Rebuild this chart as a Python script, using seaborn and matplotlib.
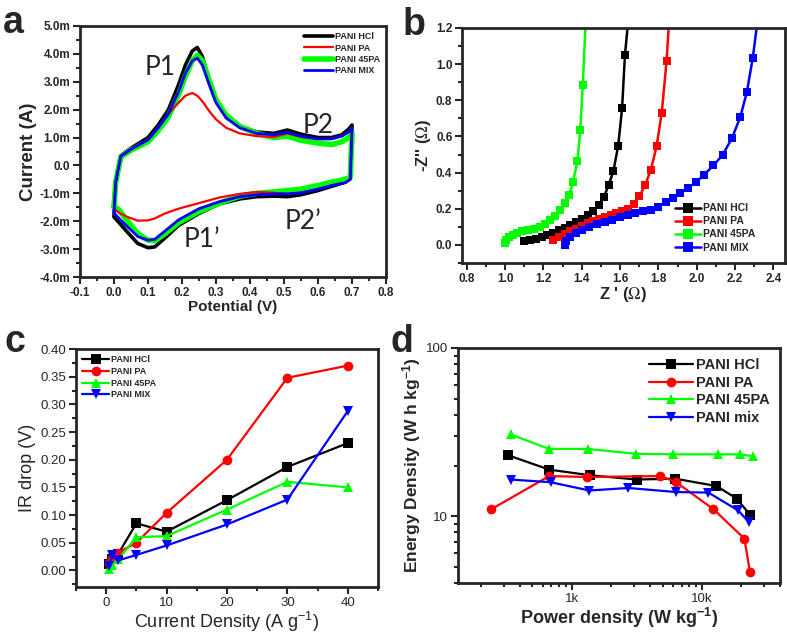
import numpy as np
import pandas as pd
import seaborn as sns
import matplotlib.pyplot as plt
from matplotlib.ticker import MultipleLocator, FuncFormatter, LogLocator, NullFormatter

# ---- panel a: cyclic voltammetry (current in mA) ----
cv_potential = [0.0, 0.005, 0.02, 0.05, 0.10, 0.13, 0.16, 0.19, 0.21, 0.23, 0.245, 0.26, 0.28,
                0.30, 0.33, 0.37, 0.42, 0.47, 0.51, 0.55, 0.60, 0.64, 0.67, 0.69, 0.70,
                0.695, 0.68, 0.64, 0.60, 0.55, 0.51, 0.47, 0.42, 0.37, 0.31, 0.25, 0.19,
                0.15, 0.12, 0.10, 0.07, 0.04, 0.015, 0.0]
cv_hcl = [-1.8, -0.6, 0.35, 0.62, 1.0, 1.45, 2.0, 2.9, 3.6, 4.1, 4.23, 3.9, 3.05,
          2.35, 1.75, 1.4, 1.2, 1.15, 1.27, 1.12, 1.0, 1.0, 1.1, 1.3, 1.45,
          -0.45, -0.6, -0.75, -0.9, -1.05, -1.12, -1.1, -1.12, -1.2, -1.38, -1.72, -2.15,
          -2.6, -2.92, -2.95, -2.8, -2.4, -2.05, -1.85]
cv_pa = [-1.6, -0.6, 0.33, 0.58, 0.92, 1.35, 1.85, 2.25, 2.5, 2.6, 2.5, 2.3, 1.95,
         1.65, 1.35, 1.15, 1.05, 1.02, 1.15, 1.02, 0.95, 0.95, 1.05, 1.2, 1.35,
         -0.5, -0.62, -0.72, -0.85, -0.98, -1.02, -0.98, -0.95, -1.02, -1.15, -1.35, -1.55,
         -1.72, -1.9, -1.97, -1.98, -1.85, -1.7, -1.55]
cv_45pa = [-1.5, -0.6, 0.3, 0.55, 0.85, 1.25, 1.75, 2.55, 3.2, 3.75, 3.95, 3.75, 3.05,
           2.35, 1.8, 1.4, 1.15, 1.0, 1.05, 0.9, 0.8, 0.75, 0.85, 1.0, 1.15,
           -0.42, -0.5, -0.6, -0.72, -0.85, -0.9, -0.95, -1.0, -1.1, -1.35, -1.65, -2.05,
           -2.45, -2.7, -2.68, -2.45, -2.0, -1.6, -1.45]
cv_mix = [-1.7, -0.6, 0.33, 0.58, 0.92, 1.35, 1.85, 2.65, 3.3, 3.75, 3.85, 3.6, 2.9,
          2.25, 1.7, 1.35, 1.15, 1.1, 1.18, 1.05, 0.95, 0.95, 1.05, 1.2, 1.35,
          -0.5, -0.62, -0.72, -0.85, -0.98, -1.02, -1.02, -1.05, -1.12, -1.3, -1.55, -1.95,
          -2.35, -2.65, -2.68, -2.55, -2.2, -1.9, -1.7]

# ---- panel b: Nyquist plots ----
zre_hcl = [1.10, 1.13, 1.16, 1.19, 1.22, 1.25, 1.28, 1.31, 1.34, 1.37, 1.40, 1.43, 1.46,
           1.49, 1.515, 1.54, 1.565, 1.59, 1.61, 1.625, 1.652]
zim_hcl = [0.02, 0.025, 0.035, 0.045, 0.055, 0.065, 0.08, 0.095, 0.11, 0.125, 0.145, 0.165,
           0.19, 0.22, 0.265, 0.33, 0.41, 0.55, 0.755, 1.05, 1.35]
zre_pa = [1.25, 1.28, 1.31, 1.34, 1.37, 1.40, 1.43, 1.46, 1.49, 1.52, 1.55, 1.58, 1.61,
          1.64, 1.67, 1.70, 1.73, 1.76, 1.79, 1.817, 1.842, 1.862]
zim_pa = [0.03, 0.045, 0.06, 0.075, 0.09, 0.105, 0.12, 0.135, 0.145, 0.155, 0.165, 0.175,
          0.185, 0.20, 0.225, 0.268, 0.33, 0.415, 0.545, 0.73, 1.015, 1.35]
zre_45pa = [1.00, 1.005, 1.02, 1.04, 1.06, 1.09, 1.12, 1.15, 1.18, 1.21, 1.235, 1.26, 1.287,
            1.31, 1.335, 1.355, 1.377, 1.392, 1.405, 1.425]
zim_45pa = [0.01, 0.03, 0.045, 0.055, 0.065, 0.075, 0.082, 0.09, 0.098, 0.115, 0.138, 0.16,
            0.195, 0.23, 0.275, 0.35, 0.465, 0.635, 0.885, 1.35]
zre_mix = [1.31, 1.32, 1.34, 1.37, 1.40, 1.44, 1.48, 1.52, 1.56, 1.60, 1.64, 1.68, 1.72,
           1.76, 1.80, 1.84, 1.875, 1.913, 1.953, 1.996, 2.038, 2.087, 2.136, 2.183, 2.226,
           2.261, 2.292, 2.33]
zim_mix = [0.0, 0.02, 0.045, 0.065, 0.085, 0.10, 0.115, 0.125, 0.14, 0.155, 0.165, 0.175,
           0.185, 0.195, 0.21, 0.235, 0.26, 0.285, 0.315, 0.347, 0.388, 0.44, 0.50, 0.59,
           0.705, 0.845, 1.035, 1.35]

# ---- panel c: IR drop ----
current_density = [0.5, 1, 2, 5, 10, 20, 30, 40]
ir_hcl = [0.012, 0.02, 0.03, 0.085, 0.07, 0.127, 0.187, 0.23]
ir_pa = [0.013, 0.02, 0.032, 0.05, 0.104, 0.20, 0.348, 0.37]
ir_45pa = [0.003, 0.01, 0.02, 0.06, 0.062, 0.11, 0.16, 0.15]
ir_mix = [0.008, 0.027, 0.018, 0.028, 0.045, 0.083, 0.128, 0.288]

# ---- panel d: Ragone plot ----
pd_hcl = [326, 673, 1384, 3160, 6240, 13000, 18600, 23500]
ed_hcl = [23.0, 18.9, 17.5, 16.5, 16.7, 15.1, 12.7, 10.2]
pd_pa = [240, 673, 1320, 4770, 6300, 12300, 21300, 23500]
ed_pa = [10.96, 17.3, 17.1, 17.3, 16.0, 11.0, 7.34, 4.65]
pd_45pa = [340, 673, 1330, 3110, 6050, 13400, 19700, 24900]
ed_45pa = [30.6, 25.1, 25.1, 23.5, 23.3, 23.3, 23.3, 22.7]
pd_mix = [340, 693, 1370, 2730, 6380, 11260, 19100, 23100]
ed_mix = [16.5, 15.9, 14.2, 14.7, 13.9, 13.8, 10.8, 9.2]

BLACK, RED, GREEN, BLUE = '#000000', '#ff0000', '#00ff00', '#0000ff'

sns.set_theme(style='ticks')
plt.rcParams['font.family'] = ['Liberation Sans', 'DejaVu Sans']
plt.rcParams['mathtext.fontset'] = 'stix'
plt.rcParams['axes.linewidth'] = 2.0

fig = plt.figure(figsize=(7.87, 6.35), dpi=100)
W, H = 787, 635


def px_axes(l, t, r, b):
    return fig.add_axes([l / W, 1 - b / H, (r - l) / W, (b - t) / H])


def style_ticks(ax, size=8.5, weight='bold'):
    ax.tick_params(which='both', direction='out', top=False, right=False, width=1.5,
                   labelsize=size, pad=2)
    ax.tick_params(which='major', length=5)
    ax.tick_params(which='minor', length=3)
    for lab in ax.get_xticklabels() + ax.get_yticklabels():
        lab.set_fontweight(weight)


ax_a = px_axes(80, 26, 386, 277)
ax_b = px_axes(462, 28, 785, 263)
ax_c = px_axes(76, 349, 378, 587)
ax_d = px_axes(458, 348, 780, 583)

# panel a
cv = [('PANI HCl', cv_hcl, BLACK, 2.6, 2), ('PANI PA', cv_pa, RED, 1.6, 4),
      ('PANI 45PA', cv_45pa, GREEN, 4.0, 3), ('PANI MIX', cv_mix, BLUE, 2.0, 5)]
for name, cur, col, lw, z in cv:
    sns.lineplot(x=cv_potential, y=cur, ax=ax_a, sort=False, estimator=None, color=col,
                 lw=lw, label=name, zorder=z)
ax_a.set_xlim(-0.1, 0.8)
ax_a.set_ylim(-4.0, 5.0)
ax_a.xaxis.set_major_locator(MultipleLocator(0.1))
ax_a.xaxis.set_minor_locator(MultipleLocator(0.05))
ax_a.yaxis.set_major_locator(MultipleLocator(1.0))
ax_a.yaxis.set_minor_locator(MultipleLocator(0.5))
ax_a.yaxis.set_major_formatter(FuncFormatter(lambda v, p: '0.0' if abs(v) < 1e-9 else f'{v:.1f}m'))
ax_a.xaxis.set_major_formatter(FuncFormatter(lambda v, p: f'{v:.1f}'))
style_ticks(ax_a)
ax_a.set_xlabel('Potential (V)', fontsize=11, fontweight='bold', labelpad=1)
ax_a.set_ylabel('Current (A)', fontsize=13.5, fontweight='bold', labelpad=2)
ax_a.legend(loc='upper right', frameon=False, prop={'size': 6.5, 'weight': 'bold'},
            handlelength=3.2, handletextpad=0.2, labelspacing=0.25, borderaxespad=0.3)
for txt, xx, yy in [('P1', 0.135, 3.5), ('P2', 0.60, 1.45), ("P1\u2019", 0.26, -2.65),
                    ("P2\u2019", 0.557, -2.0)]:
    ax_a.text(xx, yy, txt, fontsize=19, family=['Lato', 'DejaVu Sans'], ha='center', va='center')

# panel b
nyq = [('PANI HCl', zre_hcl, zim_hcl, BLACK), ('PANI PA', zre_pa, zim_pa, RED),
       ('PANI 45PA', zre_45pa, zim_45pa, GREEN), ('PANI MIX', zre_mix, zim_mix, BLUE)]
for name, zr, zi, col in nyq:
    sns.lineplot(x=zr, y=zi, ax=ax_b, sort=False, estimator=None, color=col, lw=1.8,
                 marker='s', markersize=6, markeredgewidth=0, label=name)
ax_b.set_xlim(0.775, 2.46)
ax_b.set_ylim(-0.1, 1.2)
ax_b.xaxis.set_major_locator(MultipleLocator(0.2))
ax_b.xaxis.set_minor_locator(MultipleLocator(0.1))
ax_b.yaxis.set_major_locator(MultipleLocator(0.2))
ax_b.yaxis.set_minor_locator(MultipleLocator(0.1))
ax_b.xaxis.set_major_formatter(FuncFormatter(lambda v, p: f'{v:.1f}'))
ax_b.yaxis.set_major_formatter(FuncFormatter(lambda v, p: f'{abs(v):.1f}'))
style_ticks(ax_b)
ax_b.set_xlabel("Z ' ($\\Omega$)", fontsize=12, fontweight='bold', labelpad=0)
ax_b.set_ylabel("-Z'' ($\\Omega$)", fontsize=12, fontweight='bold', labelpad=2)
ax_b.legend(loc='lower right', frameon=False, prop={'size': 7.5, 'weight': 'bold'},
            handlelength=2.5, handletextpad=0.2, labelspacing=0.3, borderaxespad=0.6,
            markerscale=1.1, bbox_to_anchor=(0.94, 0.0))

# panel c
irs = [('PANI HCl', ir_hcl, BLACK, 's'), ('PANI PA', ir_pa, RED, 'o'),
       ('PANI 45PA', ir_45pa, GREEN, '^'), ('PANI MIX', ir_mix, BLUE, 'v')]
for name, vals, col, mk in irs:
    sns.lineplot(x=current_density, y=vals, ax=ax_c, sort=False, estimator=None, color=col,
                 lw=1.6, marker=mk, markersize=7, markeredgewidth=0, label=name)
ax_c.set_xlim(-5, 45)
ax_c.set_ylim(-0.03, 0.40)
ax_c.xaxis.set_major_locator(MultipleLocator(10))
ax_c.xaxis.set_minor_locator(MultipleLocator(5))
ax_c.yaxis.set_major_locator(MultipleLocator(0.05))
ax_c.yaxis.set_minor_locator(MultipleLocator(0.025))
ax_c.yaxis.set_major_formatter(FuncFormatter(lambda v, p: f'{abs(v):.2f}'))
style_ticks(ax_c, size=9.5, weight='normal')
ax_c.set_xlabel('Current Density (A g$\\mathregular{^{-1}}$)', fontsize=13, labelpad=1)
ax_c.set_ylabel('IR drop (V)', fontsize=13, labelpad=3)
ax_c.legend(loc='upper left', frameon=False, prop={'size': 6.5, 'weight': 'bold'},
            handlelength=3.0, handletextpad=0.2, labelspacing=0.3, borderaxespad=0.3)

# panel d
rag = [('PANI HCl', pd_hcl, ed_hcl, BLACK, 's'), ('PANI PA', pd_pa, ed_pa, RED, 'o'),
       ('PANI 45PA', pd_45pa, ed_45pa, GREEN, '^'), ('PANI mix', pd_mix, ed_mix, BLUE, 'v')]
for name, xs, ys, col, mk in rag:
    sns.lineplot(x=xs, y=ys, ax=ax_d, sort=False, estimator=None, color=col, lw=1.6,
                 marker=mk, markersize=7, markeredgewidth=0, label=name)
ax_d.set_xscale('log')
ax_d.set_yscale('log')
ax_d.set_xlim(134, 40000)
ax_d.set_ylim(4, 100)
ax_d.xaxis.set_major_locator(LogLocator(base=10, subs=(1.0,)))
ax_d.xaxis.set_minor_locator(LogLocator(base=10, subs=np.arange(2, 10)))
ax_d.xaxis.set_minor_formatter(NullFormatter())
ax_d.xaxis.set_major_formatter(FuncFormatter(lambda v, p: {1000: '1k', 10000: '10k'}.get(int(round(v)), '')))
ax_d.yaxis.set_major_locator(LogLocator(base=10, subs=(1.0,)))
ax_d.yaxis.set_minor_locator(LogLocator(base=10, subs=np.arange(2, 10)))
ax_d.yaxis.set_minor_formatter(NullFormatter())
ax_d.yaxis.set_major_formatter(FuncFormatter(lambda v, p: f'{v:g}'))
style_ticks(ax_d, size=9.5, weight='normal')
ax_d.set_xlabel('Power density (W kg$\\mathregular{^{-1}}$)', fontsize=13, fontweight='bold', labelpad=1)
ax_d.set_ylabel('Energy Density (W h kg$\\mathregular{^{-1}}$)', fontsize=12.5, fontweight='bold', labelpad=2)
ax_d.legend(loc='upper right', frameon=False, prop={'size': 10.5, 'weight': 'bold'},
            handlelength=3.0, handletextpad=0.2, labelspacing=0.25, borderaxespad=0.3)

for lab, fx, fy in [('a', 3, 33), ('b', 403, 35), ('c', 5, 352), ('d', 390, 352)]:
    fig.text(fx / W, 1 - fy / H, lab, fontsize=27, fontweight='bold', ha='left', va='baseline')

fig.savefig('out.png', dpi=100)
